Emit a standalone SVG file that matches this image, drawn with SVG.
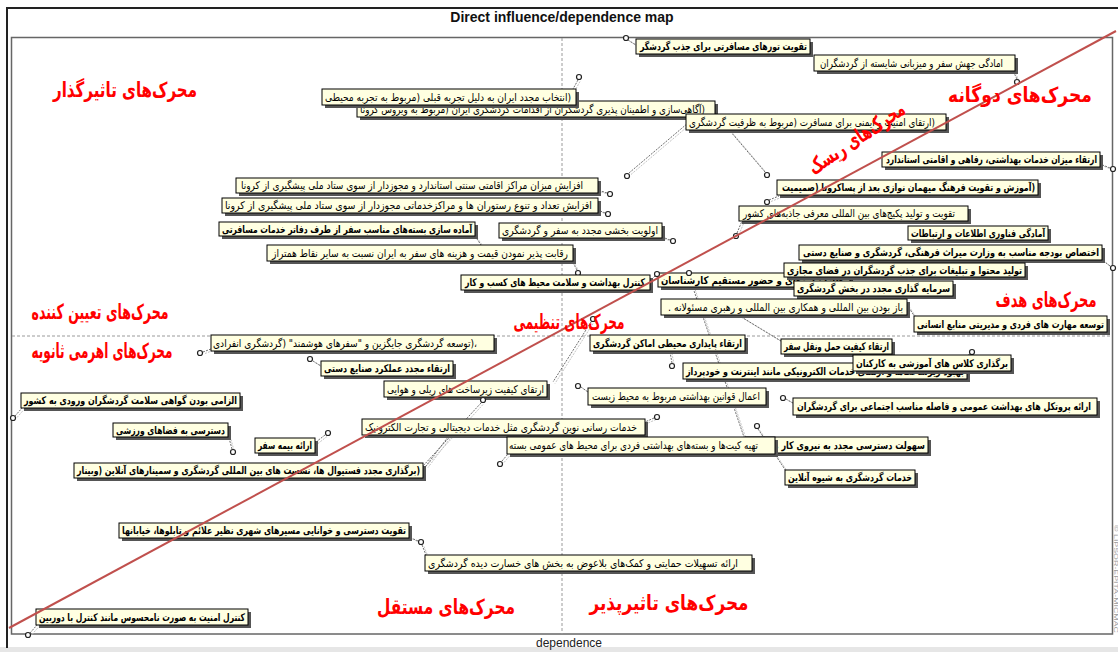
<svg xmlns="http://www.w3.org/2000/svg" xmlns:xlink="http://www.w3.org/1999/xlink" width="1118" height="652" viewBox="0 0 1118 652">
<style>
.bx{fill:#ffffe1;stroke:#000;stroke-width:1}
.sh{fill:#555}
.t{font-family:"DejaVu Sans",sans-serif;font-size:10.5px;fill:#000;text-anchor:middle;direction:rtl}
.b{font-weight:bold}
.pt{fill:#fff;stroke:#222;stroke-width:1.2}
.rl{font-family:"DejaVu Sans",sans-serif;font-weight:bold;font-size:21px;fill:#f00;text-anchor:middle;direction:rtl}
.ax{stroke:#9a9a9a;stroke-width:1;stroke-dasharray:3 2;fill:none}
</style>
<defs>
<g id="cl" fill="none">
<path d="M628,40 L636,45"/><path d="M1017,79 L1013,71"/><path d="M578,80 L573,89"/>
<path d="M629,173 L688,123"/><path d="M765,172 L730,131"/><path d="M769,200 L779,196"/>
<path d="M737,233 L742,221"/><path d="M1110,168 L1100,164"/><path d="M1110,266 L1101,259"/>
<path d="M607,193 L598,190"/><path d="M605,213 L598,210"/><path d="M670,240 L662,237"/>
<path d="M577,270 L572,261"/><path d="M655,276 L649,282"/><path d="M689,276 L745,440"/>
<path d="M725,307 L781,341"/><path d="M758,429 L786,471"/><path d="M203,352 L211,349"/>
<path d="M313,361 L321,366"/><path d="M591,322 L553,382"/><path d="M481,403 L423,466"/>
<path d="M448,437 L426,466"/><path d="M15,416 L22,408"/><path d="M232,449 L229,438"/>
<path d="M325,435 L316,442"/><path d="M654,418 L645,422"/><path d="M502,461 L508,454"/>
<path d="M672,363 L670,352"/><path d="M970,354 L966,356"/><path d="M581,387 L588,392"/>
<path d="M786,399 L793,403"/><path d="M418,541 L409,537"/><path d="M422,545 L426,555"/>
<path d="M30,633 L37,625"/><path d="M907,305 L915,317"/><path d="M475,236 L481,245"/>
</g>
</defs>
<rect x="0" y="0" width="1118" height="652" fill="#fff"/>
<rect x="0" y="647" width="1118" height="5" fill="#e6e6e6"/>
<path d="M7,648 L7,8 L1118,8" fill="none" stroke="#222" stroke-width="2"/>
<text x="562" y="22" font-family="'Liberation Sans',Arial,sans-serif" font-weight="bold" font-size="14" text-anchor="middle" fill="#111">Direct influence/dependence map</text>
<rect x="11.5" y="37.5" width="1101" height="596.5" fill="none" stroke="#666" stroke-width="1.5"/>
<path class="ax" d="M562,38 L562,634"/>
<path class="ax" d="M12,336 L1112,336"/>
<text x="569" y="647" font-family="'Liberation Sans',Arial,sans-serif" font-size="12" text-anchor="middle" fill="#222">dependence</text>
<text transform="translate(1114,525) rotate(90)" font-family="'Liberation Sans',Arial,sans-serif" font-size="6" fill="#999" textLength="108" lengthAdjust="spacingAndGlyphs">© LIPSOR-EPITA-MICMAC</text>

<g id="connectors" stroke-width="1" stroke-dasharray="2 1.2">
<use xlink:href="#cl" href="#cl" stroke="#c4c4c4" transform="translate(2,1.5)"/>
<use xlink:href="#cl" href="#cl" stroke="#6e6e6e"/>
</g>

<g id="n1"><circle class="pt" cx="626" cy="38" r="2.5"/><rect class="sh" x="639" y="42" width="174" height="15"/><rect class="bx" x="636" y="39" width="174" height="15"/><text class="t b" x="723.5" y="50" textLength="167" lengthAdjust="spacingAndGlyphs">تقویت تورهای مسافرتی برای جذب گردشگر</text></g>
<g id="n2"><circle class="pt" cx="1017" cy="82" r="2.5"/><rect class="sh" x="817" y="58" width="201" height="16"/><rect class="bx" x="814" y="55" width="201" height="16"/><text class="t" x="911.5" y="67" textLength="183" lengthAdjust="spacingAndGlyphs">امادگی جهش سفر و میزبانی شایسته از گردشگران</text></g>
<g id="n4"><circle class="pt" cx="627" cy="176" r="2.5"/><rect class="sh" x="360" y="104" width="358" height="16"/><rect class="bx" x="357" y="101" width="358" height="16"/><text class="t" x="532.5" y="113" textLength="345" lengthAdjust="spacingAndGlyphs">(آگاهی‌سازی و اطمینان پذیری گردشگران از اقدامات گردشگری ایران (مربوط به ویروس کرونا</text></g>
<g id="n3"><circle class="pt" cx="579" cy="77" r="2.5"/><rect class="sh" x="325" y="92" width="254" height="16"/><rect class="bx" x="322" y="89" width="254" height="16"/><text class="t" x="448" y="101" textLength="246" lengthAdjust="spacingAndGlyphs">(انتخاب مجدد ایران به دلیل تجربه قبلی (مربوط به تجربه محیطی</text></g>
<g id="n5"><circle class="pt" cx="767" cy="175" r="2.5"/><rect class="sh" x="689" y="117" width="260" height="16"/><rect class="bx" x="686" y="114" width="260" height="16"/><text class="t" x="812" y="126" textLength="246" lengthAdjust="spacingAndGlyphs">(ارتقای امنیت و ایمنی برای مسافرت (مربوط به ظرفیت گردشگری</text></g>
<g id="n8"><circle class="pt" cx="1113" cy="169" r="2.5"/><rect class="sh" x="885" y="155" width="218" height="15"/><rect class="bx" x="882" y="152" width="218" height="15"/><text class="t b" x="991.5" y="163" textLength="211" lengthAdjust="spacingAndGlyphs">ارتقاء میزان خدمات بهداشتی، رفاهی و اقامتی استاندارد</text></g>
<g id="n6"><circle class="pt" cx="767" cy="202" r="2.5"/><rect class="sh" x="780" y="183" width="261" height="15"/><rect class="bx" x="777" y="180" width="261" height="15"/><text class="t b" x="908.5" y="191" textLength="253" lengthAdjust="spacingAndGlyphs">(آموزش و تقویت فرهنگ میهمان نوازی بعد از پساکرونا (صمیمیت</text></g>
<g id="n7"><circle class="pt" cx="736" cy="236" r="2.5"/><rect class="sh" x="742" y="209" width="229" height="15"/><rect class="bx" x="739" y="206" width="229" height="15"/><text class="t" x="849" y="217" textLength="212" lengthAdjust="spacingAndGlyphs">تقویت و تولید پکیج‌های بین المللی معرفی جاذبه‌های کشور</text></g>
<g id="n9"><rect class="sh" x="911" y="229" width="140" height="14"/><rect class="bx" x="908" y="226" width="140" height="14"/><text class="t b" x="978" y="236.5" textLength="134" lengthAdjust="spacingAndGlyphs">آمادگی فناوری اطلاعات و ارتباطات</text></g>
<g id="n10"><circle class="pt" cx="1113" cy="268" r="2.5"/><rect class="sh" x="802" y="248" width="303" height="15"/><rect class="bx" x="799" y="245" width="303" height="15"/><text class="t b" x="951" y="256" textLength="296" lengthAdjust="spacingAndGlyphs">اختصاص بودجه مناسب به وزارت میراث فرهنگی، گردشگری و صنایع دستی</text></g>
<g id="n13"><rect class="sh" x="661" y="276" width="192" height="14"/><rect class="bx" x="658" y="273" width="192" height="14"/><text class="t b" x="754" y="283.5" textLength="186" lengthAdjust="spacingAndGlyphs">نظارت دوره‌ای و حضور مستقیم کارشناسان</text></g>
<g id="n11"><rect class="sh" x="787" y="266" width="241" height="14"/><rect class="bx" x="784" y="263" width="241" height="14"/><text class="t b" x="904.5" y="273.5" textLength="235" lengthAdjust="spacingAndGlyphs">تولید محتوا و تبلیغات برای جذب گردشگران در فضای مجازی</text></g>
<g id="n12"><rect class="sh" x="797" y="284" width="159" height="15"/><rect class="bx" x="794" y="281" width="159" height="15"/><text class="t b" x="873.5" y="292" textLength="153" lengthAdjust="spacingAndGlyphs">سرمایه گذاری مجدد در بخش گردشگری</text></g>
<g id="n17"><circle class="pt" cx="610" cy="194" r="2.5"/><rect class="sh" x="239" y="181" width="362" height="15"/><rect class="bx" x="236" y="178" width="362" height="15"/><text class="t" x="412" y="189" textLength="342" lengthAdjust="spacingAndGlyphs">افزایش میزان مراکز اقامتی سنتی استاندارد و مجوزدار از سوی ستاد ملی پیشگیری از کرونا</text></g>
<g id="n18"><circle class="pt" cx="608" cy="214" r="2.5"/><rect class="sh" x="225" y="201" width="376" height="15"/><rect class="bx" x="222" y="198" width="376" height="15"/><text class="t" x="408.5" y="209" textLength="367" lengthAdjust="spacingAndGlyphs">افزایش تعداد و تنوع رستوران ها و مراکزخدماتی مجوزدار از سوی ستاد ملی پیشگیری از کرونا</text></g>
<g id="n19"><rect class="sh" x="222" y="225" width="256" height="14"/><rect class="bx" x="219" y="222" width="256" height="14"/><text class="t b" x="347" y="232.5" textLength="250" lengthAdjust="spacingAndGlyphs">آماده سازی بسته‌های مناسب سفر از طرف دفاتر خدمات مسافرتی</text></g>
<g id="n20"><circle class="pt" cx="673" cy="241" r="2.5"/><rect class="sh" x="502" y="226" width="163" height="15"/><rect class="bx" x="499" y="223" width="163" height="15"/><text class="t" x="580" y="234" textLength="156" lengthAdjust="spacingAndGlyphs">اولویت بخشی مجدد به سفر و گردشگری</text></g>
<g id="n21"><circle class="pt" cx="578" cy="273" r="2.5"/><rect class="sh" x="270" y="248" width="306" height="16"/><rect class="bx" x="267" y="245" width="306" height="16"/><text class="t" x="420" y="257" textLength="296" lengthAdjust="spacingAndGlyphs">رقابت پذیر نمودن قیمت و هزینه های سفر به ایران نسبت به سایر نقاط همتراز</text></g>
<g id="n14"><circle class="pt" cx="657" cy="274" r="2.5"/><rect class="sh" x="464" y="278" width="189" height="15"/><rect class="bx" x="461" y="275" width="189" height="15"/><text class="t b" x="555" y="286" textLength="180" lengthAdjust="spacingAndGlyphs">کنترل بهداشت و سلامت محیط های کسب و کار</text></g>
<g id="n15"><rect class="sh" x="664" y="302" width="246" height="16"/><rect class="bx" x="661" y="299" width="246" height="16"/><text class="t" x="785.5" y="311" textLength="235" lengthAdjust="spacingAndGlyphs">باز بودن بین المللی و همکاری بین المللی و رهبری مسئولانه .</text></g>
<g id="n16"><rect class="sh" x="917" y="319" width="193" height="16"/><rect class="bx" x="914" y="316" width="193" height="16"/><text class="t b" x="1010.5" y="328" textLength="187" lengthAdjust="spacingAndGlyphs">توسعه مهارت های فردی و مدیریتی منابع انسانی</text></g>
<g id="n22"><circle class="pt" cx="200" cy="353" r="2.5"/><rect class="sh" x="214" y="338" width="283" height="16"/><rect class="bx" x="211" y="335" width="283" height="16"/><text class="t" x="345" y="347" textLength="264" lengthAdjust="spacingAndGlyphs">،(توسعه گردشگری جایگزین و "سفرهای هوشمند" (گردشگری انفرادی</text></g>
<g id="n23"><circle class="pt" cx="310" cy="359" r="2.5"/><rect class="sh" x="324" y="364" width="132" height="15"/><rect class="bx" x="321" y="361" width="132" height="15"/><text class="t b" x="387" y="372" textLength="126" lengthAdjust="spacingAndGlyphs">ارتقاء مجدد عملکرد صنایع دستی</text></g>
<g id="n31"><circle class="pt" cx="672" cy="366" r="2.5"/><rect class="sh" x="593" y="338" width="155" height="16"/><rect class="bx" x="590" y="335" width="155" height="16"/><text class="t b" x="667.5" y="347" textLength="149" lengthAdjust="spacingAndGlyphs">ارتقاء پایداری محیطی اماکن گردشگری</text></g>
<g id="n33"><rect class="sh" x="784" y="342" width="111" height="15"/><rect class="bx" x="781" y="339" width="111" height="15"/><text class="t b" x="836.5" y="350" textLength="105" lengthAdjust="spacingAndGlyphs">ارتقاء کیفیت حمل ونقل سفر</text></g>
<g id="n32"><rect class="sh" x="686" y="366" width="284" height="16"/><rect class="bx" x="683" y="363" width="284" height="16"/><text class="t b" x="825" y="375" textLength="278" lengthAdjust="spacingAndGlyphs">بهبود زیرساخت‌ها و ارتقای خدمات الکترونیکی مانند اینترنت و خودپرداز</text></g>
<g id="n34"><circle class="pt" cx="972" cy="352" r="2.5"/><rect class="sh" x="856" y="358" width="158" height="16"/><rect class="bx" x="853" y="355" width="158" height="16"/><text class="t b" x="932" y="367" textLength="152" lengthAdjust="spacingAndGlyphs">برگذاری کلاس های آموزشی به کارکنان</text></g>
<g id="n24"><circle class="pt" cx="593" cy="319" r="2.5"/><rect class="sh" x="387" y="384" width="163" height="16"/><rect class="bx" x="384" y="381" width="163" height="16"/><text class="t" x="465.5" y="393" textLength="157" lengthAdjust="spacingAndGlyphs">ارتقای کیفیت زیرساخت های ریلی و هوایی</text></g>
<g id="n35"><circle class="pt" cx="578" cy="386" r="2.5"/><rect class="sh" x="591" y="391" width="178" height="17"/><rect class="bx" x="588" y="388" width="178" height="17"/><text class="t" x="676" y="400" textLength="168" lengthAdjust="spacingAndGlyphs">اعمال قوانین بهداشتی مربوط به محیط زیست</text></g>
<g id="n36"><circle class="pt" cx="783" cy="398" r="2.5"/><rect class="sh" x="796" y="401" width="304" height="17"/><rect class="bx" x="793" y="398" width="304" height="17"/><text class="t b" x="944" y="410" textLength="294" lengthAdjust="spacingAndGlyphs">ارائه پروتکل های بهداشت عمومی و فاصله مناسب اجتماعی برای گردشگران</text></g>
<g id="n25"><circle class="pt" cx="13" cy="418" r="2.5"/><rect class="sh" x="24" y="396" width="219" height="15"/><rect class="bx" x="21" y="393" width="219" height="15"/><text class="t b" x="130.5" y="404" textLength="213" lengthAdjust="spacingAndGlyphs">الزامی بودن گواهی سلامت گردشگران ورودی به کشور</text></g>
<g id="n26"><circle class="pt" cx="233" cy="452" r="2.5"/><rect class="sh" x="116" y="426" width="115" height="14"/><rect class="bx" x="113" y="423" width="115" height="14"/><text class="t b" x="170.5" y="433.5" textLength="109" lengthAdjust="spacingAndGlyphs">دسترسی به فضاهای ورزشی</text></g>
<g id="n27"><circle class="pt" cx="328" cy="433" r="2.5"/><rect class="sh" x="258" y="441" width="60" height="15"/><rect class="bx" x="255" y="438" width="60" height="15"/><text class="t b" x="285" y="449" textLength="54" lengthAdjust="spacingAndGlyphs">ارائه بیمه سفر</text></g>
<g id="n29"><circle class="pt" cx="657" cy="417" r="2.5"/><rect class="sh" x="365" y="422" width="283" height="16"/><rect class="bx" x="362" y="419" width="283" height="16"/><text class="t" x="501" y="431" textLength="272" lengthAdjust="spacingAndGlyphs">خدمات رسانی نوین گردشگری مثل خدمات دیجیتالی و تجارت الکترونیک</text></g>
<g id="n37"><circle class="pt" cx="689" cy="273" r="2.5"/><rect class="sh" x="748" y="440" width="183" height="16"/><rect class="bx" x="745" y="437" width="183" height="16"/><text class="t b" x="842.5" y="449" textLength="165" lengthAdjust="spacingAndGlyphs">سهولت دسترسی مجدد به نیروی کار ماهر</text></g>
<g id="n30"><circle class="pt" cx="500" cy="464" r="2.5"/><rect class="sh" x="510" y="440" width="268" height="17"/><rect class="bx" x="507" y="437" width="268" height="17"/><text class="t" x="633.5" y="449" textLength="249" lengthAdjust="spacingAndGlyphs">تهیه کیت‌ها و بسته‌های بهداشتی فردی برای محیط های عمومی بسته</text></g>
<g id="n28"><circle class="pt" cx="483" cy="400" r="2.5"/><rect class="sh" x="77" y="466" width="349" height="15"/><rect class="bx" x="74" y="463" width="349" height="15"/><text class="t b" x="248.5" y="474" textLength="343" lengthAdjust="spacingAndGlyphs">(برگذاری مجدد فستیوال ها، نشست های بین المللی گردشگری و سمینارهای آنلاین (وبینار</text></g>
<g id="n38"><circle class="pt" cx="757" cy="426" r="2.5"/><rect class="sh" x="788" y="473" width="130" height="15"/><rect class="bx" x="785" y="470" width="130" height="15"/><text class="t b" x="850" y="481" textLength="124" lengthAdjust="spacingAndGlyphs">خدمات گردشگری به شیوه آنلاین</text></g>
<g id="n39"><rect class="sh" x="122" y="526" width="290" height="15"/><rect class="bx" x="119" y="523" width="290" height="15"/><text class="t b" x="264" y="534" textLength="284" lengthAdjust="spacingAndGlyphs">تقویت دسترسی و خوانایی مسیرهای شهری نظیر علائم و تابلوها، خیابانها</text></g>
<g id="n40"><circle class="pt" cx="421" cy="542" r="2.5"/><rect class="sh" x="428" y="558" width="327" height="16"/><rect class="bx" x="425" y="555" width="327" height="16"/><text class="t" x="583" y="567" textLength="310" lengthAdjust="spacingAndGlyphs">ارائه  تسهیلات حمایتی و کمک‌های بلاعوض به بخش های خسارت دیده گردشگری</text></g>
<g id="n41"><circle class="pt" cx="28" cy="635" r="2.5"/><rect class="sh" x="39" y="612" width="212" height="16"/><rect class="bx" x="36" y="609" width="212" height="16"/><text class="t b" x="142" y="621" textLength="206" lengthAdjust="spacingAndGlyphs">کنترل امنیت به صورت نامحسوس مانند کنترل با دوربین</text></g>

<path d="M9,628 L1116,31" stroke="#c0504d" stroke-width="2" fill="none"/>

<g id="zones">
<text class="rl" x="125" y="97" textLength="144" lengthAdjust="spacingAndGlyphs">محرک‌های تاثیرگذار</text>
<text class="rl" x="1020" y="102" textLength="144" lengthAdjust="spacingAndGlyphs">محرک‌های دوگانه</text>
<text class="rl" transform="translate(857,139) rotate(-34)" x="0" y="6" textLength="112" lengthAdjust="spacingAndGlyphs">محرک‌های ریسک</text>
<text class="rl" x="100" y="319" textLength="137" lengthAdjust="spacingAndGlyphs">محرک‌های تعیین کننده</text>
<text class="rl" x="102" y="358" textLength="141" lengthAdjust="spacingAndGlyphs">محرک‌های اهرمی ثانویه</text>
<text class="rl" x="569" y="329" textLength="111" lengthAdjust="spacingAndGlyphs">محرک‌های تنظیمی</text>
<text class="rl" x="1046" y="307" textLength="101" lengthAdjust="spacingAndGlyphs">محرک‌های هدف</text>
<text class="rl" x="446" y="614" textLength="138" lengthAdjust="spacingAndGlyphs">محرک‌های مستقل</text>
<text class="rl" x="669" y="610" textLength="159" lengthAdjust="spacingAndGlyphs">محرک‌های تاثیرپذیر</text>
</g>
</svg>
